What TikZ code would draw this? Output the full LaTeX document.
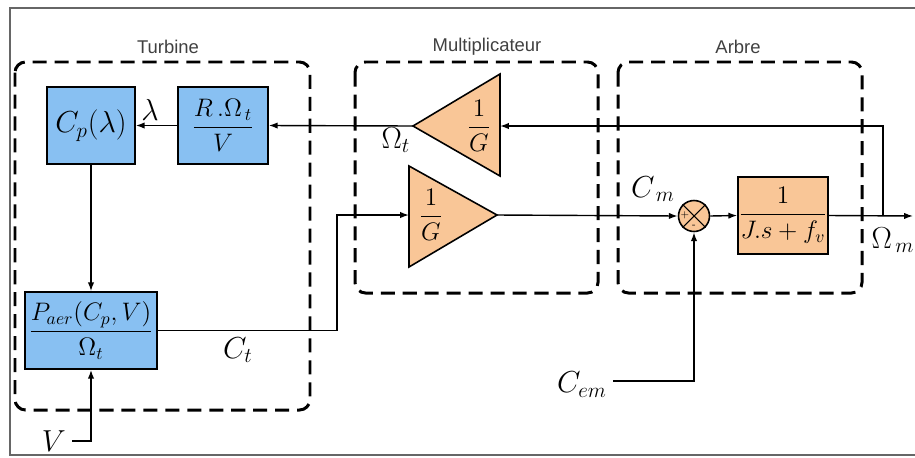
\documentclass[tikz,border=0pt]{standalone}
\usepackage{amsmath}
\usepackage{fontspec}
\setsansfont{Liberation Sans}
\usetikzlibrary{positioning,arrows.meta}
\definecolor{blkBlue}{HTML}{88C0F2}
\definecolor{blkOrange}{HTML}{F9C697}
\begin{document}
\begin{tikzpicture}[
    x=0.02cm, y=-0.02cm,
    every node/.style={font=\Large},
    lbl/.style={font=\LARGE},
    grp/.style={draw, line width=1.7pt, dash pattern=on 8pt off 4.5pt, rounded corners=6pt},
    grplabel/.style={font=\sffamily\fontsize{10.5}{12}\selectfont, text=black!75},
    bluebox/.style={draw, line width=0.9pt, fill=blkBlue, minimum height=1.54cm, inner sep=0pt},
    orgbox/.style={draw, line width=0.9pt, fill=blkOrange, minimum height=1.54cm, inner sep=0pt},
    gain/.style={draw, line width=0.9pt, fill=blkOrange},
    sig/.style={-{Latex[length=5pt,width=3.6pt]}, line width=0.8pt},
]
  \useasboundingbox (0,0) rectangle (915,457);
  % frame
  \draw[black!60, line width=0.6pt] (915,8) -- (10,8) -- (10,455) -- (915,455);
  % groups
  \draw[grp] (15,62) rectangle (310,410);
  \draw[grp] (355,62) rectangle (598,293);
  \draw[grp] (618,62) rectangle (862,293);
  \node[grplabel] at (168,47) {Turbine};
  \node[grplabel] at (487,47) {Multiplicateur};
  \node[grplabel] at (738,47) {Arbre};
  % turbine blocks
  \node[bluebox, minimum width=1.76cm, font=\LARGE] (cp) at (91,125.5) {$C_p(\lambda)$};
  \node[bluebox, minimum width=1.8cm] (lam) at (223,125.5) {$\dfrac{R\,.\Omega_{\,t}}{V}$};
  \node[bluebox, minimum width=2.64cm] (paer) at (91,330.5) {$\dfrac{P_{aer}(C_p,V)}{\Omega_t}$};
  % gains
  \draw[gain] (500,74) -- (500,176) -- (413,126) -- cycle;
  \coordinate (g1in) at (500,126);
  \coordinate (g1out) at (413,126);
  \node (g1) at (479,126) {$\dfrac{1}{G}$};
  \draw[gain] (409,166) -- (409,267) -- (497,215) -- cycle;
  \coordinate (g2in) at (409,215);
  \coordinate (g2out) at (497,215);
  \node (g2) at (431,215) {$\dfrac{1}{G}$};
  % shaft
  \node[circle, draw, line width=0.9pt, fill=blkOrange, minimum size=0.62cm, inner sep=0pt] (sum) at (694,216) {};
  \draw[line width=0.6pt] (sum.north west) -- (sum.south east) (sum.north east) -- (sum.south west);
  \node[font=\tiny, inner sep=0pt] at (685,215) {+};
  \node[font=\tiny, inner sep=0pt] at (694,226) {-};
  \node[orgbox, minimum width=1.8cm] (shaft) at (783,215.5) {$\dfrac{1}{J.s+f_v}$};
  \coordinate (out) at (913,216);
  \coordinate (tap) at (883,216);
  \coordinate (ctk) at (337,215);
  \coordinate (vin) at (72,441);
  \coordinate (cem) at (613,381);
  % signals
  \draw[sig] (tap) |- (g1in);
  \draw[sig] (g1out) -- (lam.east);
  \draw[sig] (lam.west) -- (cp.east);
  \draw[sig] (cp.south) -- (paer.north);
  \draw[sig] (vin) -| (paer.south);
  \draw[sig] (paer.east) -| (ctk) -- (g2in);
  \draw[sig] (g2out) -- (sum.west);
  \draw[sig] (sum.east) -- (shaft.west);
  \draw[sig] (shaft.east) -- (out);
  \draw[sig] (cem) -| (sum.south);
  % labels
  \node[lbl] at (150,110) {$\lambda$};
  \node[lbl] at (396,140) {$\Omega_t$};
  \node[lbl] at (238,350) {$C_t$};
  \node[lbl] at (653,189) {$C_{\,m}$};
  \node[lbl] at (893,240) {$\Omega_{\,m}$};
  \node[lbl, left=0pt of vin] {$V$};
  \node[lbl, left=0pt of cem, yshift=-2pt] {$C_{em}$};
\end{tikzpicture}
\end{document}
